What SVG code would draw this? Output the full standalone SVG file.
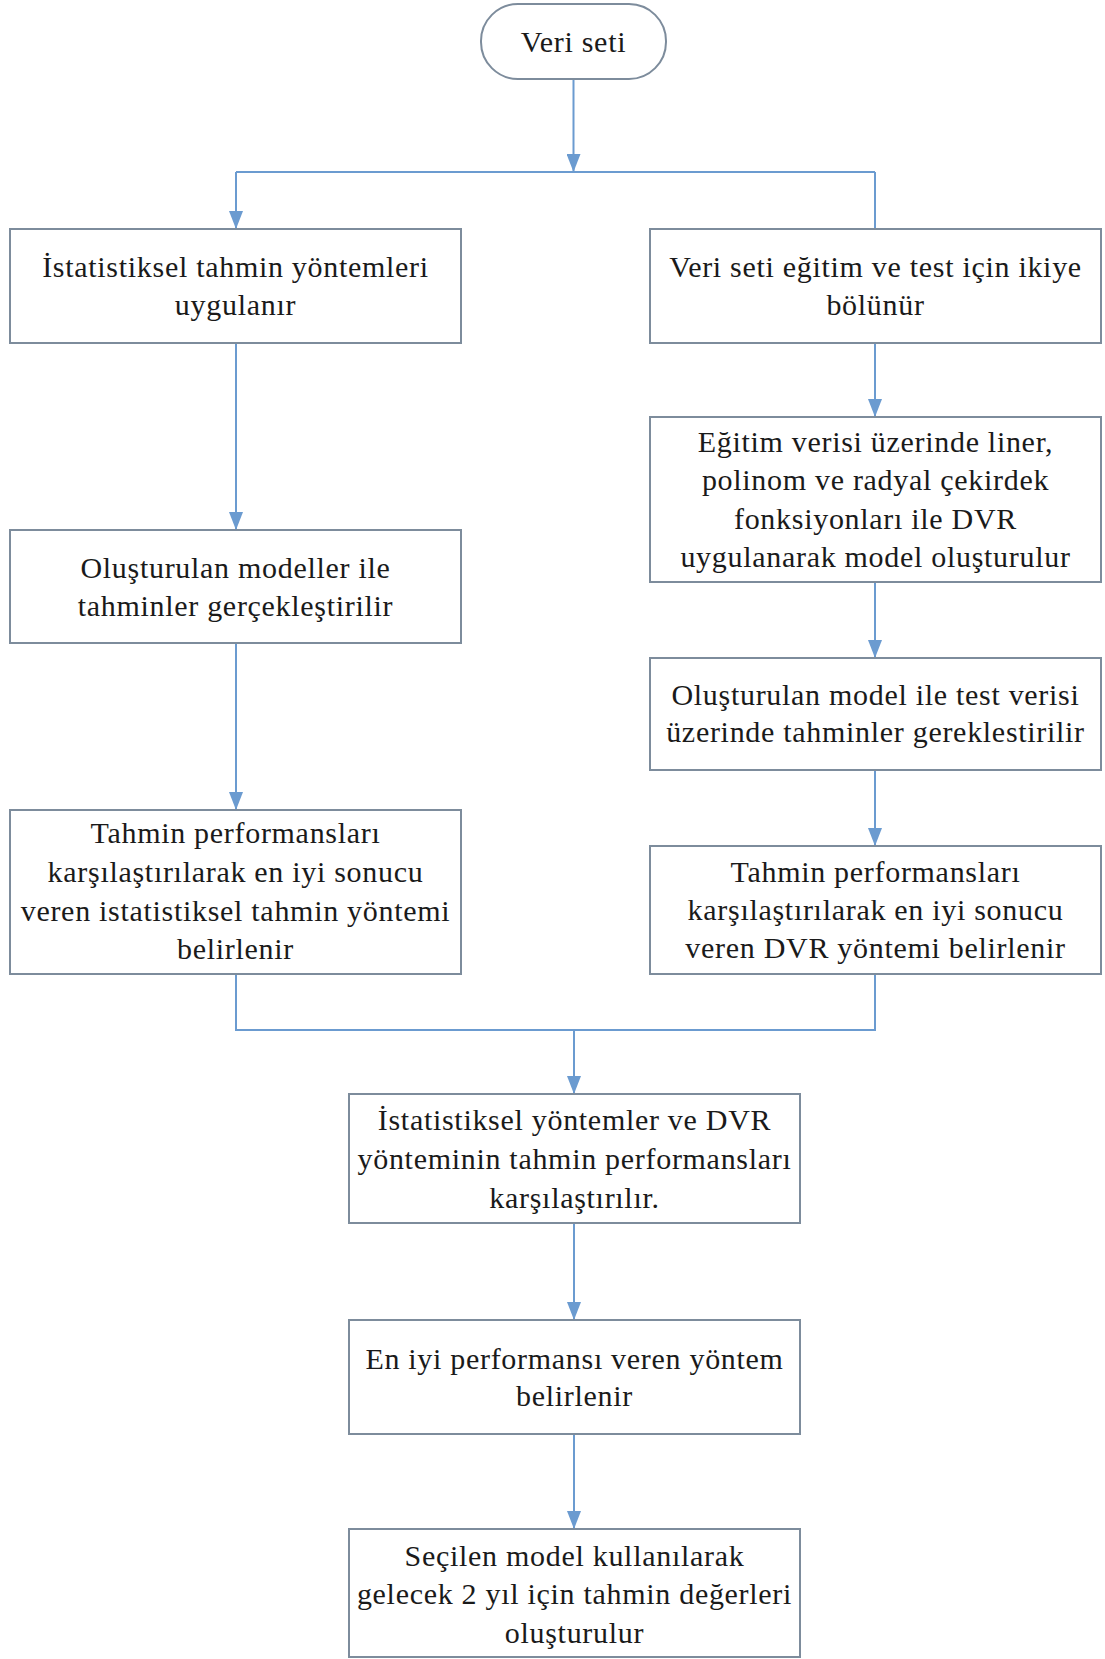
<svg xmlns="http://www.w3.org/2000/svg" width="1105" height="1659" viewBox="0 0 1105 1659">
<defs>
<style>
.box{fill:#ffffff;stroke:#7d8c9c;stroke-width:2}
.shadow{fill:none;stroke:#c9d0d8;stroke-width:2}
.t{font-family:"Liberation Serif","Times New Roman",serif;font-size:30px;letter-spacing:0.7px;fill:#1a1a1a;text-anchor:middle}
.c{fill:none;stroke:#6b9bd0;stroke-width:2}
</style>
<marker id="ah" viewBox="0 0 14 18" refX="7" refY="18" markerWidth="14" markerHeight="18" markerUnits="userSpaceOnUse" orient="auto-start-reverse">
<path d="M0,0 L14,0 L7,18 Z" fill="#6b9bd0"/>
</marker>
<marker id="ad" viewBox="0 0 18 14" refX="18" refY="7" markerWidth="18" markerHeight="14" markerUnits="userSpaceOnUse" orient="auto">
<path d="M0,0 L18,7 L0,14 Z" fill="#6b9bd0"/>
</marker>
</defs>
<rect width="1105" height="1659" fill="#ffffff"/>
<g id="connectors">
<path class="c" d="M573.5,79 V172" marker-end="url(#ad)"/>
<path class="c" d="M236,172 H875"/>
<path class="c" d="M236,172 V229" marker-end="url(#ad)"/>
<path class="c" d="M875,172 V229"/>
<path class="c" d="M236,343 V530" marker-end="url(#ad)"/>
<path class="c" d="M236,643 V810" marker-end="url(#ad)"/>
<path class="c" d="M875,343 V417" marker-end="url(#ad)"/>
<path class="c" d="M875,582 V658" marker-end="url(#ad)"/>
<path class="c" d="M875,770 V846" marker-end="url(#ad)"/>
<path class="c" d="M236,974 V1030 H875 V974"/>
<path class="c" d="M574,1030 V1094" marker-end="url(#ad)"/>
<path class="c" d="M574,1223 V1320" marker-end="url(#ad)"/>
<path class="c" d="M574,1434 V1529" marker-end="url(#ad)"/>
</g>
<g id="start">
<rect class="box" x="481" y="4" width="185" height="75" rx="37" ry="37"/>
<text class="t" x="573.5" y="52">Veri seti</text>
</g>
<g id="L1">
<rect class="box" x="10" y="229" width="451" height="114"/>
<text class="t" x="235.5" y="277">İstatistiksel tahmin yöntemleri</text>
<text class="t" x="235.5" y="315">uygulanır</text>
</g>
<g id="R1">
<rect class="box" x="650" y="229" width="451" height="114"/>
<text class="t" x="875.5" y="277">Veri seti eğitim ve test için ikiye</text>
<text class="t" x="875.5" y="315">bölünür</text>
</g>
<g id="L2">
<rect class="box" x="10" y="530" width="451" height="113"/>
<text class="t" x="235.5" y="578">Oluşturulan modeller ile</text>
<text class="t" x="235.5" y="616">tahminler gerçekleştirilir</text>
</g>
<g id="R2">
<rect class="box" x="650" y="417" width="451" height="165"/>
<text class="t" x="875.5" y="452">Eğitim verisi üzerinde liner,</text>
<text class="t" x="875.5" y="490">polinom ve radyal çekirdek</text>
<text class="t" x="875.5" y="529">fonksiyonları ile DVR</text>
<text class="t" x="875.5" y="567">uygulanarak model oluşturulur</text>
</g>
<g id="R3">
<rect class="box" x="650" y="658" width="451" height="112"/>
<text class="t" x="875.5" y="705">Oluşturulan model ile test verisi</text>
<text class="t" x="875.5" y="742">üzerinde tahminler gereklestirilir</text>
</g>
<g id="L3">
<rect class="box" x="10" y="810" width="451" height="164"/>
<text class="t" x="235.5" y="843">Tahmin performansları</text>
<text class="t" x="235.5" y="882">karşılaştırılarak en iyi sonucu</text>
<text class="t" x="235.5" y="921">veren istatistiksel tahmin yöntemi</text>
<text class="t" x="235.5" y="959">belirlenir</text>
</g>
<g id="R4">
<rect class="box" x="650" y="846" width="451" height="128"/>
<text class="t" x="875.5" y="882">Tahmin performansları</text>
<text class="t" x="875.5" y="920">karşılaştırılarak en iyi sonucu</text>
<text class="t" x="875.5" y="958">veren DVR yöntemi belirlenir</text>
</g>
<g id="C1">
<rect class="box" x="349" y="1094" width="451" height="129"/>
<text class="t" x="574.5" y="1130">İstatistiksel yöntemler ve DVR</text>
<text class="t" x="574.5" y="1169">yönteminin tahmin performansları</text>
<text class="t" x="574.5" y="1208">karşılaştırılır.</text>
</g>
<g id="C2">
<rect class="box" x="349" y="1320" width="451" height="114"/>
<text class="t" x="574.5" y="1369">En iyi performansı veren yöntem</text>
<text class="t" x="574.5" y="1406">belirlenir</text>
</g>
<g id="C3">
<rect class="box" x="349" y="1529" width="451" height="128"/>
<text class="t" x="574.5" y="1566">Seçilen model kullanılarak</text>
<text class="t" x="574.5" y="1604">gelecek 2 yıl için tahmin değerleri</text>
<text class="t" x="574.5" y="1643">oluşturulur</text>
</g>
</svg>
